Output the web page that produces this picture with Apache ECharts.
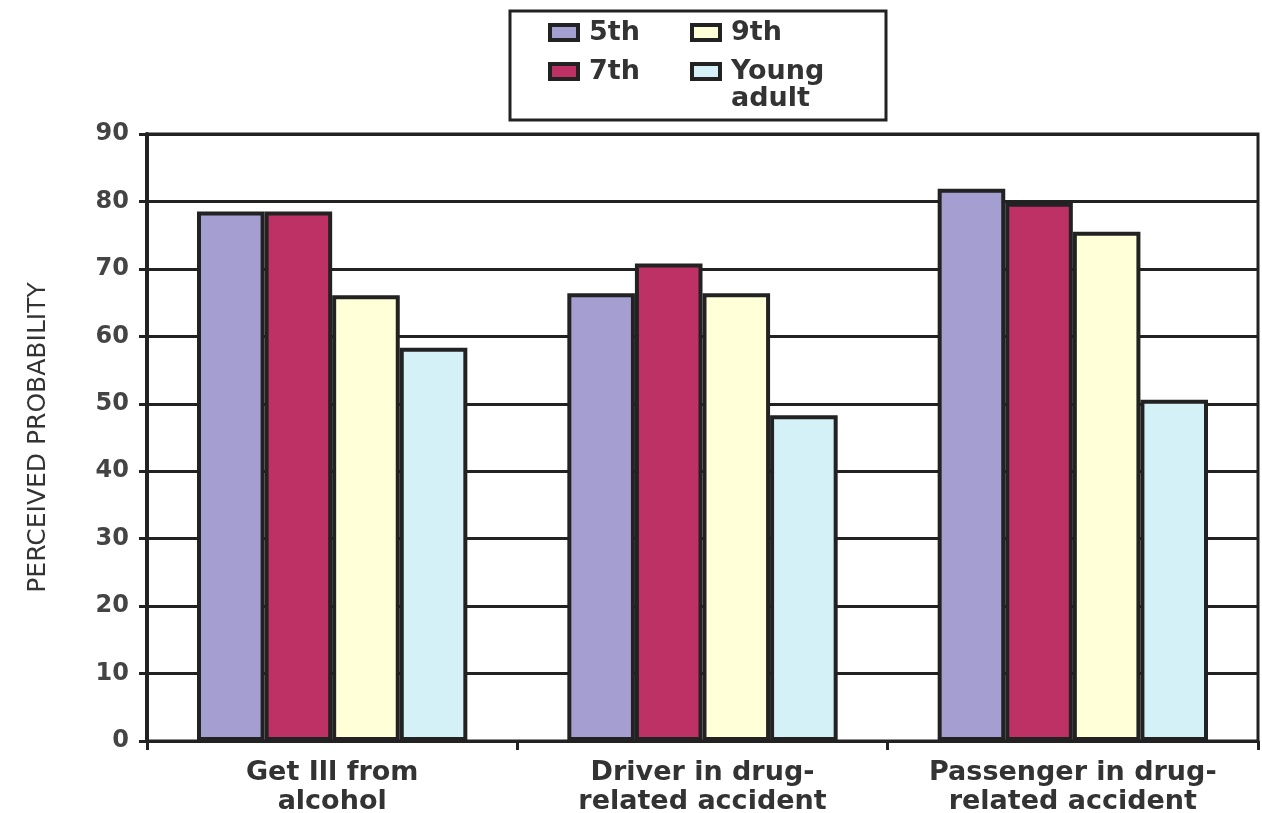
<!DOCTYPE html>
<html>
<head>
<meta charset="utf-8">
<script src="https://cdn.jsdelivr.net/npm/echarts@6/dist/echarts.min.js"></script>
<style>
  html, body { margin: 0; padding: 0; background: #fff; }
  #chart { width: 1262px; height: 813px; }
</style>
</head>
<body>
<div id="chart"></div>
<script>
// Perceived probability of harm, by age group
const categories = [
  'Get Ill from\nalcohol',
  'Driver in drug-\nrelated accident',
  'Passenger in drug-\nrelated accident'
];
const grade5 = [78.5, 66.4, 81.9];
const grade7 = [78.5, 70.8, 79.8];
const grade9 = [66.1, 66.4, 75.5];
const youngAdult = [58.3, 48.3, 50.6];
const yTicks = { min: 0, max: 90, interval: 10 };

const ink = '#222';
const font = 'DejaVu Sans';

function barSeries(name, data, color) {
  return {
    name: name,
    type: 'bar',
    data: data,
    barGap: '0%',
    barCategoryGap: '27%',
    itemStyle: { color: color, borderColor: ink, borderWidth: 4 },
    emphasis: { disabled: true }
  };
}

const legendText = {
  fontFamily: font, fontSize: 27, fontWeight: 'bold', color: '#333',
  lineHeight: 27, padding: [0, 0, 0, 6]
};
const legendCommon = {
  orient: 'vertical',
  icon: 'rect',
  padding: 0,
  itemWidth: 28,
  itemHeight: 15,
  itemGap: 12,
  selectedMode: false,
  itemStyle: { borderColor: ink, borderWidth: 4 },
  textStyle: legendText
};

const chart = echarts.init(document.getElementById('chart'));
chart.setOption({
  animation: false,
  backgroundColor: '#fff',
  textStyle: { fontFamily: font },
  legend: [
    Object.assign({}, legendCommon, { data: ['5th', '7th'], left: 548, top: 19 }),
    Object.assign({}, legendCommon, { data: ['9th'], left: 690, top: 19 }),
    Object.assign({}, legendCommon, {
      data: ['Young adult'],
      left: 690,
      top: 31,
      // leading blank line keeps "Young" level with its swatch
      formatter: function () { return '\nYoung\nadult'; }
    })
  ],
  graphic: [{
    type: 'rect',
    shape: { x: 510, y: 11, width: 376, height: 109 },
    style: { fill: 'none', stroke: ink, lineWidth: 3 },
    silent: true
  }],
  grid: {
    left: 147, right: 4, top: 134, bottom: 72,
    outerBoundsMode: 'none',
    show: true, borderColor: ink, borderWidth: 3, backgroundColor: 'transparent'
  },
  xAxis: {
    type: 'category',
    data: categories,
    axisLine: { lineStyle: { color: ink, width: 3 } },
    axisTick: { show: true, length: 9, lineStyle: { color: ink, width: 3 } },
    axisLabel: {
      fontFamily: font, fontSize: 27, fontWeight: 'bold', color: '#333',
      lineHeight: 29, margin: 17, interval: 0
    }
  },
  yAxis: {
    type: 'value',
    min: yTicks.min, max: yTicks.max, interval: yTicks.interval,
    name: 'PERCEIVED PROBABILITY',
    nameLocation: 'middle',
    nameRotate: 90,
    nameGap: 96,
    nameTextStyle: { fontFamily: font, fontSize: 25, color: '#333' },
    axisLine: { show: true, lineStyle: { color: ink, width: 4 } },
    axisTick: { show: true, length: 8, lineStyle: { color: ink, width: 3 } },
    axisLabel: { fontFamily: font, fontSize: 24, fontWeight: 'bold', color: '#444', margin: 18 },
    splitLine: { show: true, lineStyle: { color: ink, width: 3 } }
  },
  series: [
    barSeries('5th', grade5, '#A59FD1'),
    barSeries('7th', grade7, '#BE3164'),
    barSeries('9th', grade9, '#FFFFD8'),
    barSeries('Young adult', youngAdult, '#D4F1F8')
  ]
});
</script>
</body>
</html>
